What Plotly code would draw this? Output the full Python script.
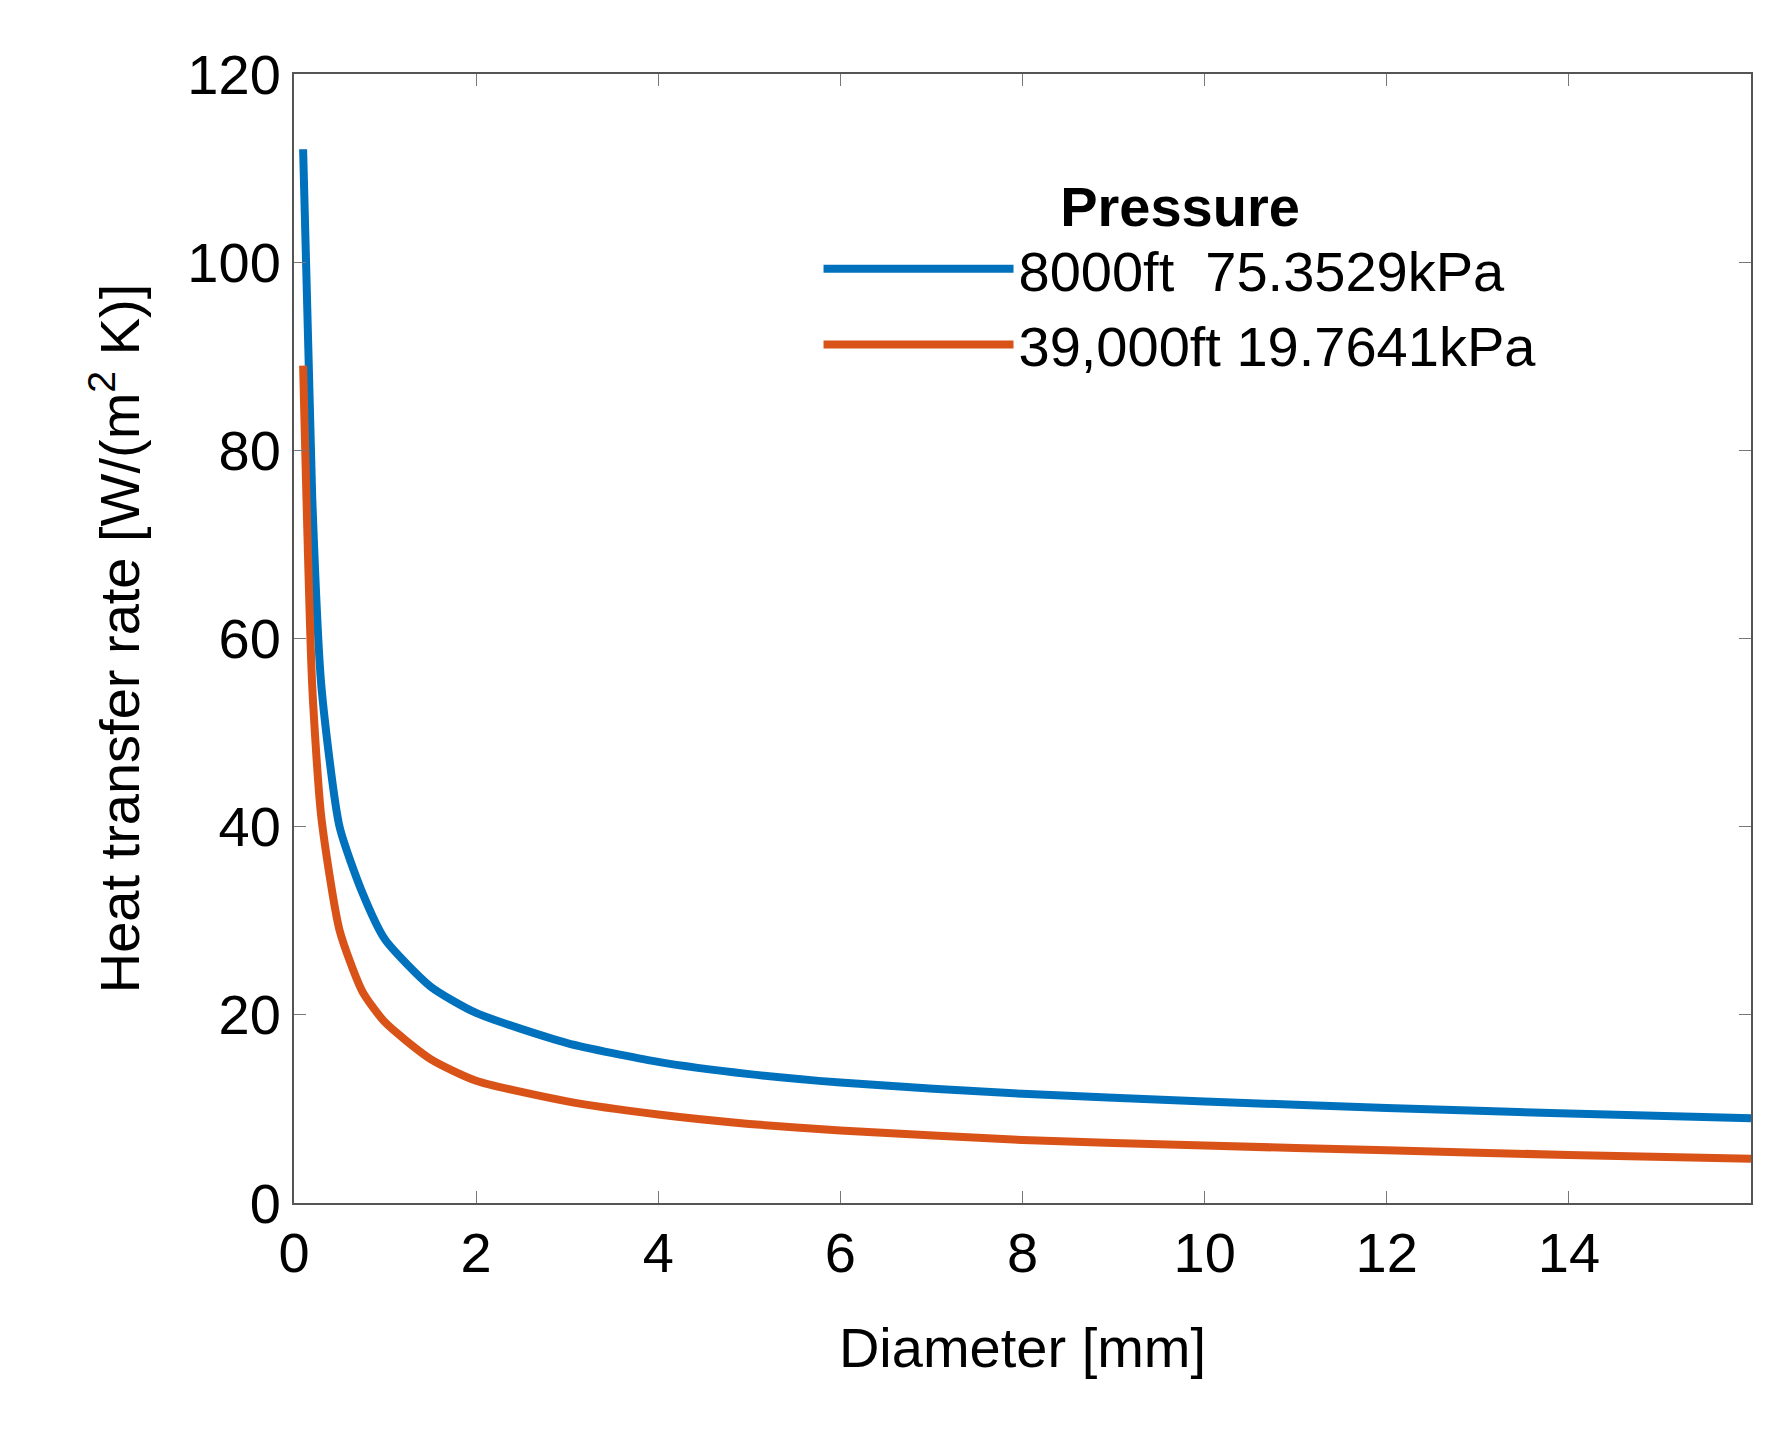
import plotly.graph_objects as go

# Diametro [mm]
d_blue = [0.1, 0.2, 0.3, 0.5, 0.75, 1, 1.5, 2, 3, 4, 5, 6, 8, 10, 12, 14, 16]
h_blue = [112, 75, 55, 40, 33, 28, 23, 20.2, 17, 15, 13.7, 12.8, 11.6, 10.8, 10.1, 9.5, 9.0]
d_red = [0.1, 0.2, 0.3, 0.5, 0.75, 1, 1.5, 2, 3, 4, 5, 6, 8, 10, 12, 14, 16]
h_red = [89, 55, 41, 29, 22.5, 19.2, 15.3, 13, 10.8, 9.4, 8.4, 7.7, 6.7, 6.1, 5.6, 5.1, 4.7]

fig = go.Figure()
fig.add_trace(go.Scatter(x=d_blue, y=h_blue, mode='lines', name='8000ft  75.3529kPa',
                         line=dict(color='#0072BD', width=8, shape='spline', smoothing=0.6)))
fig.add_trace(go.Scatter(x=d_red, y=h_red, mode='lines', name='39,000ft 19.7641kPa',
                         line=dict(color='#D95319', width=8, shape='spline', smoothing=0.6)))

ax = dict(showline=True, linecolor='#555', linewidth=2, mirror='ticks', ticks='inside',
          ticklen=12, tickcolor='#777', showgrid=False, zeroline=False,
          tickfont=dict(size=56, color='black'), title_font=dict(size=56, color='black'))
fig.update_xaxes(ax, range=[0, 16], dtick=2, title_text='Diameter [mm]', title_standoff=45)
fig.update_yaxes(ax, range=[0, 120], dtick=20, title_text='Heat transfer rate [W/(m<sup>2</sup> K)]',
                 title_standoff=30)
fig.update_layout(width=1770, height=1432, plot_bgcolor='white', paper_bgcolor='white',
                  font=dict(family='Liberation Sans', color='black'),
                  margin=dict(l=286, r=27, t=66, b=237),
                  legend=dict(x=0.36, y=0.93, xanchor='left', yanchor='top',
                              title=dict(text='<b>Pressure</b>', side='top center', font=dict(size=56)),
                              font=dict(size=56), bgcolor='rgba(0,0,0,0)', itemwidth=190,
                              tracegroupgap=0))
fig.write_html('out.html')
